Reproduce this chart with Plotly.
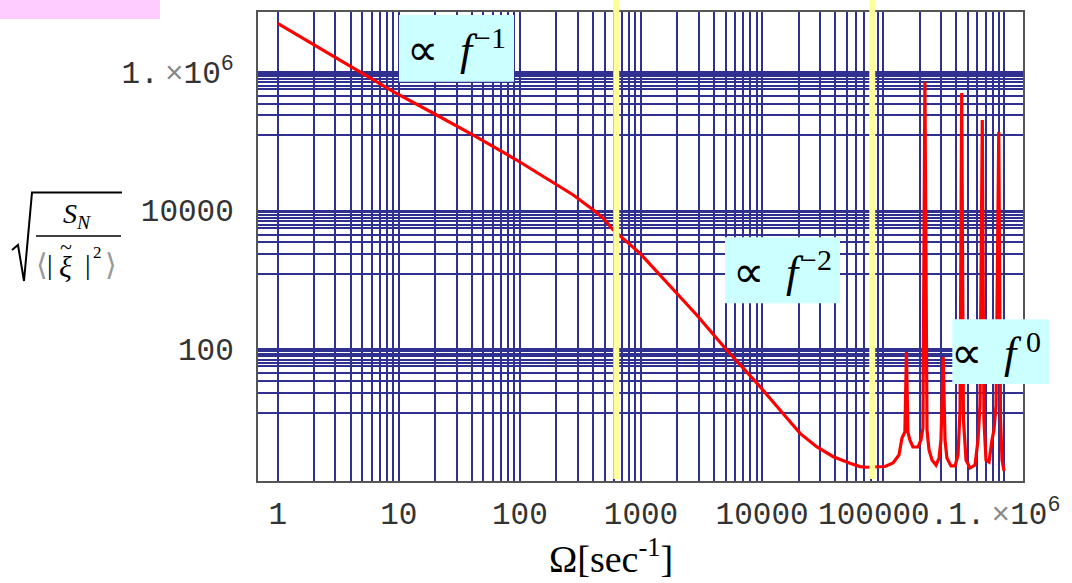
import math
import plotly.graph_objects as go

# ---------------- data ----------------
freq = [1, 5.09, 9.0, 19.3, 41.2, 94, 201, 276, 404, 489, 590, 671, 982, 1972, 2884,
        5100, 9616, 1.5e4, 2.06e4, 2.82e4, 3.87e4, 5.32e4, 6.43e4, 7.31e4, 8.89e4,
        1.035e5, 1.205e5, 1.35e5, 1.43e5, 1.51e5, 1.556e5, 1.60e5, 1.66e5, 1.76e5,
        1.94e5, 2.05e5, 2.13e5, 2.21e5, 2.30e5, 2.39e5, 2.53e5, 2.73e5, 2.89e5, 3.00e5,
        3.13e5, 3.24e5, 3.36e5, 3.63e5, 3.92e5, 4.15e5, 4.31e5, 4.45e5, 4.60e5, 4.83e5,
        5.21e5, 5.73e5, 6.07e5, 6.30e5, 6.58e5, 6.79e5, 7.06e5, 7.48e5, 7.91e5, 8.22e5,
        8.55e5, 9.00e5, 9.31e5, 9.58e5, 9.95e5]
psd = [5.05e6, 9.36e5, 5.2e5, 2.54e5, 1.23e5, 5.37e4, 2.34e4, 1.68e4, 1.02e4, 7.74e3,
       5.25e3, 4.3e3, 2.42e3, 641, 312, 97.5, 28.8, 11.6, 6.1, 3.92, 2.81, 2.26, 2.02,
       1.98, 2.0,
       2.03, 2.28, 2.97, 5.24, 6.38, 91.2, 6.38, 4.90, 3.88,
       3.88, 4.90, 7.29, 7.18e5, 6.82, 3.51, 2.52, 2.13, 2.69, 4.90,
       77.1, 4.90, 2.69, 2.07, 2.07, 2.97, 13.3, 4.98e5, 9.51, 2.52,
       1.93, 2.13, 4.90, 15.7, 2.03e5, 9.51, 2.52, 2.36, 4.90, 6.82,
       15.7, 1.36e5, 9.51, 2.52, 1.75]

# x axis: labels at decades, grid at 1..9 x 10^k
x_decades = [1, 10, 100, 1000, 1e4, 1e5, 1e6]
x_labels = ["1", "10", "100", "1000", "10000", "100000.",
            "1.<span style='color:#888'>&#8201;×</span>10<sup>6</sup>"]
x_multipliers = [1, 2, 3, 4, 5, 6, 7, 8, 9]

# y axis: labelled decades and grid-line clusters below each label
y_decades = [1e2, 1e4, 1e6]
y_labels = ["100", "10000", "1.<span style='color:#888'>&#8201;×</span>10<sup>6</sup>"]
y_multipliers = [1, 0.939, 0.864, 0.792, 0.710, 0.630, 0.565, 0.452, 0.347, 0.236, 0.122]

# frequencies marked by the yellow bands
band_freqs = [(590, 662), (7.68e4, 8.6e4)]

# ---------------- figure ----------------
W, H = 1072, 583
L, R, T, B = 258, 1023, 12, 481
X_RANGE = [-0.1627, 6.1545]
Y_RANGE = [0.0981, 6.8658]


def px(x):
    return (x - L) / (R - L)


def py(y):
    return (B - y) / (B - T)


x_grid = [d * m for d in x_decades[:-1] for m in x_multipliers] + [x_decades[-1]]
y_grid = [d * m for d in y_decades for m in y_multipliers]

fig = go.Figure()
fig.add_trace(go.Scatter(x=freq, y=psd, mode="lines",
                         line=dict(color="#ff0000", width=3.2), hoverinfo="skip",
                         showlegend=False))

grid_col = "#303090"
tick_font = dict(family="Liberation Mono, Courier New, monospace", size=31, color="#333")

fig.update_xaxes(type="log", range=X_RANGE, tickvals=x_decades, ticktext=x_labels,
                 showgrid=False, automargin=False, tickangle=0,
                 minor=dict(tickvals=x_grid, showgrid=True, gridcolor=grid_col,
                            gridwidth=1.6, ticks=""),
                 showline=True, mirror=True, linecolor="#555", linewidth=2,
                 ticks="", zeroline=False, tickfont=tick_font, ticklabelstandoff=4)
fig.update_yaxes(type="log", range=Y_RANGE, tickvals=y_decades, ticktext=y_labels,
                 showgrid=False, automargin=False, tickangle=0,
                 minor=dict(tickvals=y_grid, showgrid=True, gridcolor=grid_col,
                            gridwidth=1.6, ticks=""),
                 showline=True, mirror=True, linecolor="#555", linewidth=2,
                 ticks="", zeroline=False, tickfont=tick_font, ticklabelstandoff=16)

shapes = []
# yellow bands
for f0, f1 in band_freqs:
    shapes.append(dict(type="rect", xref="paper", yref="paper",
                       x0=(math.log10(f0) - X_RANGE[0]) / (X_RANGE[1] - X_RANGE[0]),
                       x1=(math.log10(f1) - X_RANGE[0]) / (X_RANGE[1] - X_RANGE[0]),
                       y0=py(479), y1=py(0), fillcolor="#ffff99", line=dict(width=0),
                       layer="above"))
# cyan label boxes
boxes = [(399, 15, 514, 81.7), (725, 237.3, 840, 303.3), (952.3, 319.3, 1049, 384)]
for x0, y0, x1, y1 in boxes:
    shapes.append(dict(type="rect", xref="paper", yref="paper", x0=px(x0), x1=px(x1),
                       y0=py(y1), y1=py(y0), fillcolor="#ccffff", line=dict(width=0),
                       layer="above"))
# pink box top-left
shapes.append(dict(type="rect", xref="paper", yref="paper", x0=px(0), x1=px(160),
                   y0=py(19), y1=py(0), fillcolor="#ffccff", line=dict(width=0),
                   layer="above"))
# radical sign
rad = [(12, 250), (18, 245), (24, 281), (32, 192.5), (122, 192.5)]
path = "M " + " L ".join(f"{px(a)},{py(b)}" for a, b in rad)
shapes.append(dict(type="path", xref="paper", yref="paper", path=path,
                   line=dict(color="#000", width=2)))
# fraction bar
shapes.append(dict(type="line", xref="paper", yref="paper", x0=px(36), x1=px(121),
                   y0=py(236), y1=py(236), line=dict(color="#000", width=1.5)))

ann = []
serif = "Liberation Serif, Times New Roman, serif"


def text(t, x, y, size, color="#000", family=serif):
    ann.append(dict(text=t, x=px(x), y=py(y), xref="paper", yref="paper",
                    xanchor="center", yanchor="middle", showarrow=False,
                    font=dict(family=family, size=size, color=color)))


for t, x, y in [("−1", 490, 37), ("−2", 816, 259), ("0", 1033, 341)]:
    text(t, x, y, 30)
for x, y in [(456, 50), (782, 272), (1000, 353)]:
    text("∝&nbsp;&nbsp;<i>f</i>&nbsp;&nbsp;&nbsp;", x, y, 44)

# axis title x
text("Ω[sec<sup>-1</sup>]", 611, 556, 38)
# y title
text("<i>S</i><sub><i>N</i></sub>", 77, 215, 28)
text("⟨", 42, 264, 30, color="#999")
text("|", 50, 264, 28)
text("<i>ξ</i>", 65, 266, 30)
text("~", 66, 246, 22)
text("|", 88, 264, 28)
text("2", 97, 253, 17)
text("⟩", 111, 264, 30, color="#999")

fig.update_layout(width=W, height=H, margin=dict(l=L, r=W - R, t=T, b=H - B),
                  paper_bgcolor="white", plot_bgcolor="white", shapes=shapes,
                  annotations=ann, showlegend=False)

fig.write_html("out.html")
